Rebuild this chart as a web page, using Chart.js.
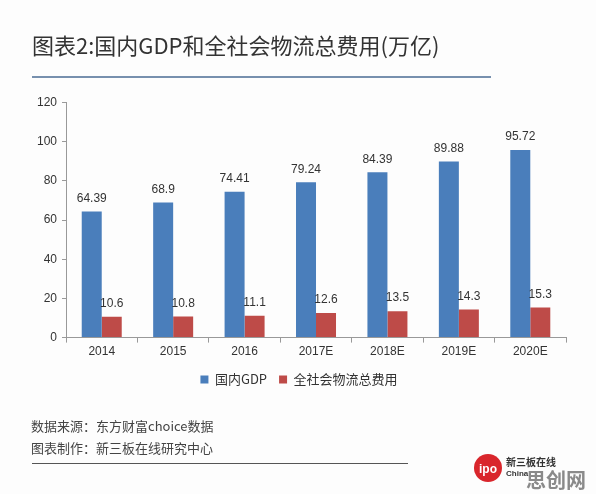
<!DOCTYPE html>
<html>
<head>
<meta charset="utf-8">
<script src="https://cdn.jsdelivr.net/npm/chart.js@4.4.1/dist/chart.umd.min.js"></script>
<style>
  html, body { margin: 0; padding: 0; background: #fdfdfd; }
  #box { width: 596px; height: 494px; }
</style>
</head>
<body>
<div id="box"><canvas id="gdpChart"></canvas></div>
<script>
const years = ["2014", "2015", "2016", "2017E", "2018E", "2019E", "2020E"];
const gdp = [64.39, 68.9, 74.41, 79.24, 84.39, 89.88, 95.72];
const logistics = [10.6, 10.8, 11.1, 12.6, 13.5, 14.3, 15.3];
const yTicks = [0, 20, 40, 60, 80, 100, 120];

const FONT = "'Liberation Sans', 'Noto Sans CJK SC', sans-serif";
const CJK = "'Noto Sans CJK SC', sans-serif";

// labels above bars, rules and footer text
const extras = {
  id: "extras",
  afterDatasetsDraw(chart) {
    const ctx = chart.ctx;
    ctx.save();
    ctx.font = "12px " + FONT;
    ctx.fillStyle = "#333";
    ctx.textAlign = "center";
    ctx.textBaseline = "bottom";
    chart.data.datasets.forEach((ds, i) => {
      chart.getDatasetMeta(i).data.forEach((bar, j) => {
        ctx.fillText(String(ds.data[j]), bar.x, bar.y - 7);
      });
    });
    ctx.restore();
  },
  afterDraw(chart) {
    const ctx = chart.ctx;
    ctx.save();
    ctx.strokeStyle = "#4a6b93";
    ctx.lineWidth = 1.5;
    ctx.beginPath();
    ctx.moveTo(32, 77);
    ctx.lineTo(491, 77);
    ctx.stroke();

    ctx.strokeStyle = "#555";
    ctx.lineWidth = 1;
    ctx.beginPath();
    ctx.moveTo(32, 463.5);
    ctx.lineTo(408, 463.5);
    ctx.stroke();

    ctx.fillStyle = "#444";
    ctx.font = "13px " + CJK;
    ctx.textAlign = "left";
    ctx.textBaseline = "middle";
    ctx.fillText("数据来源：东方财富choice数据", 31, 426);
    ctx.fillText("图表制作：新三板在线研究中心", 31, 448);

    // logo
    ctx.fillStyle = "#d9262c";
    ctx.beginPath();
    ctx.arc(488, 468, 14, 0, Math.PI * 2);
    ctx.fill();
    ctx.fillStyle = "#fff";
    ctx.font = "bold 12px " + FONT;
    ctx.textAlign = "center";
    ctx.fillText("ipo", 488, 470);
    ctx.fillStyle = "#333";
    ctx.font = "bold 10px " + CJK;
    ctx.textAlign = "left";
    ctx.fillText("新三板在线", 506, 462);
    ctx.font = "bold 8px " + FONT;
    ctx.fillText("China", 506, 474);
    ctx.fillStyle = "#8a8a8a";
    ctx.font = "bold 20px " + CJK;
    ctx.fillText("思创网", 526, 480);
    ctx.restore();
  }
};

new Chart(document.getElementById("gdpChart"), {
  type: "bar",
  data: {
    labels: years,
    datasets: [
      {
        label: "国内GDP",
        data: gdp,
        backgroundColor: "#4a7ebb",
        barPercentage: 1,
        categoryPercentage: 0.56,
      },
      {
        label: "全社会物流总费用",
        data: logistics,
        backgroundColor: "#be4b48",
        barPercentage: 1,
        categoryPercentage: 0.56,
      },
    ],
  },
  options: {
    responsive: true,
    maintainAspectRatio: false,
    animation: false,
    layout: {
      padding: { left: 32, right: 30, top: 32, bottom: 98 },
    },
    plugins: {
      title: {
        display: true,
        text: "图表2:国内GDP和全社会物流总费用(万亿)",
        align: "start",
        color: "#333",
        font: { family: CJK, size: 22, weight: "normal" },
        padding: { top: 0, bottom: 44 },
      },
      legend: {
        position: "bottom",
        labels: {
          boxWidth: 8,
          boxHeight: 8,
          color: "#333",
          font: { family: CJK, size: 13 },
          padding: 12,
        },
      },
      tooltip: { enabled: false },
    },
    scales: {
      x: {
        grid: {
          display: true,
          drawOnChartArea: false,
          drawTicks: true,
          tickLength: 5,
          color: "#999",
        },
        border: { color: "#999" },
        ticks: { color: "#333", font: { family: FONT, size: 12 }, padding: 2 },
      },
      y: {
        min: 0,
        max: 120,
        afterBuildTicks(axis) {
          axis.ticks = yTicks.map(v => ({ value: v }));
        },
        grid: {
          display: true,
          drawOnChartArea: false,
          drawTicks: true,
          tickLength: 4,
          color: "#999",
        },
        border: { color: "#999" },
        ticks: { color: "#333", font: { family: FONT, size: 12 }, padding: 5 },
      },
    },
  },
  plugins: [extras],
});
</script>
</body>
</html>
